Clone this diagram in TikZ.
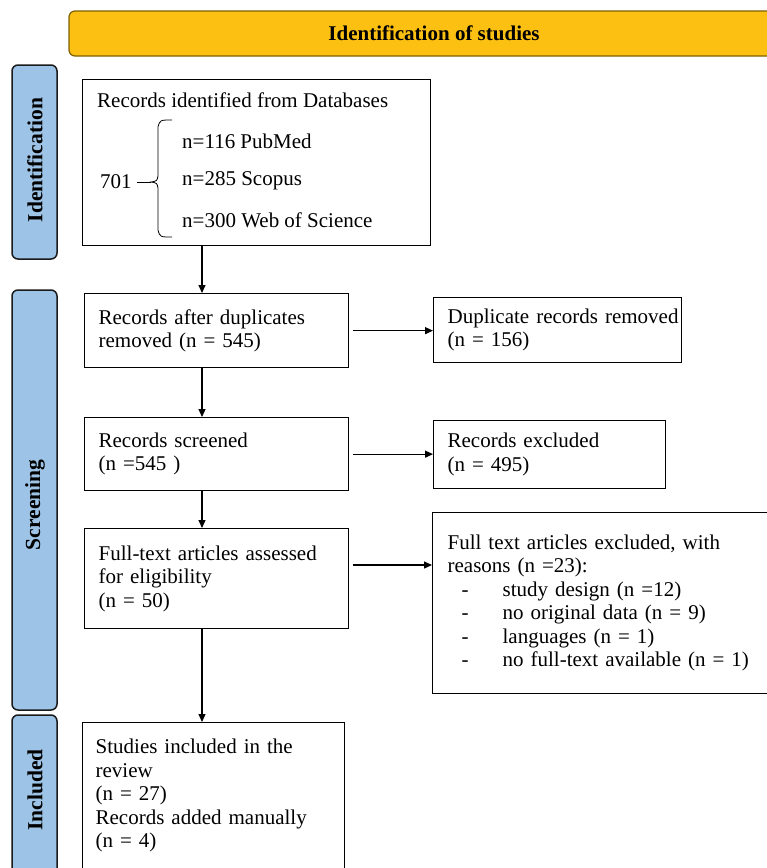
\documentclass[tikz,border=0pt]{standalone}
\usepackage{fontspec}
\setmainfont{Liberation Serif}
\usetikzlibrary{arrows.meta}
\definecolor{bannergold}{HTML}{FBC012}
\definecolor{bannerline}{HTML}{7F6000}
\definecolor{sideblue}{HTML}{9DC3E6}
\definecolor{sideline}{HTML}{1A1A1A}
\begin{document}
\begin{tikzpicture}[x=1pt,y=-1pt,
  every node/.style={font=\fontsize{21}{23.5}\selectfont},
  banner/.style={draw=bannerline,fill=bannergold,line width=1.2pt,rounded corners=6pt},
  side/.style={draw=sideline,fill=sideblue,line width=1.5pt,rounded corners=6pt},
  sidelabel/.style={rotate=90,font=\fontsize{21.5}{24}\selectfont\bfseries},
  flowbox/.style={draw=black,line width=1.3pt,align=left,inner xsep=14pt,inner ysep=0pt,anchor=north west},
  plain/.style={inner sep=0pt,anchor=west},
  flowarrow/.style={-{Triangle[length=8pt,width=7pt]},line width=1.2pt}
]
\clip (0,0) rectangle (767,868);
\fill[white] (0,0) rectangle (767,868);
% banner
\draw[banner] (69,11) rectangle (790,56);
\node[font=\fontsize{21}{24}\selectfont\bfseries] (bannertext) at (434,33) {Identification of studies};
% side labels
\draw[side] (12,65) rectangle (57,259);
\node[sidelabel] (lid) at (35,160) {Identification};
\draw[side] (12,290) rectangle (57,710);
\node[sidelabel] (lscr) at (35,505) {Screening};
\draw[side] (12,715) rectangle (57,880);
\node[sidelabel] (linc) at (35,790) {Included};
% box 1
\node[draw=black,line width=1.3pt,minimum width=348pt,minimum height=166pt,anchor=north west,inner sep=0pt] (box1) at (82,79) {};
\node[plain] (hdr) at (97,100) {Records identified from Databases};
\node[plain] (n701) at (100,182) {701};
\node[plain] (pub) at (182,141) {n=116 PubMed};
\node[plain] (sco) at (182,181) {n=285 Scopus};
\node[plain] (wos) at (182,220) {n=300 Web of Science};
\coordinate (cusp) at (151,182);
\draw[line width=0.8pt] (172,120) .. controls (160,120) .. (158,127) -- (158,176) .. controls (157,181) .. (cusp) .. controls (157,183) .. (158,188) -- (158,230) .. controls (160,237) .. (172,237);
\draw[line width=0.8pt] ([xshift=5pt]n701.east) -- (cusp);
% screening boxes
\node[flowbox,text width=236pt,minimum height=74pt] (box2) at (84,293) {Records after duplicates\\removed (n = 545)};
\node[flowbox,text width=220pt,minimum height=65pt] (dup) at (433,297) {\mbox{Duplicate records removed}\\(n = 156)};
\node[flowbox,text width=236pt,minimum height=73pt] (box3) at (84,417) {Records screened\\(n =545 )};
\node[flowbox,text width=204pt,minimum height=68pt] (excl) at (433,420) {Records excluded\\(n = 495)\\[2pt]};
\node[flowbox,text width=236pt,minimum height=100pt] (box4) at (84,528) {Full-text articles assessed\\for eligibility\\(n = 50)};
\node[flowbox,text width=305pt,minimum height=181pt,inner xsep=15pt] (fexcl) at (432,512) {Full text articles excluded, with\\reasons (n =23):\\
\hspace*{14pt}\makebox[41pt][l]{-}study design (n =12)\\
\hspace*{14pt}\makebox[41pt][l]{-}no original data (n = 9)\\
\hspace*{14pt}\makebox[41pt][l]{-}languages (n = 1)\\
\hspace*{14pt}\makebox[41pt][l]{-}no full-text available (n = 1)};
% included
\node[flowbox,text width=236pt,minimum height=146pt,inner xsep=13pt] (box5) at (82,722) {Studies included in the\\review\\(n = 27)\\Records added manually\\(n = 4)};
% arrows
\coordinate (ax) at (202,0);
\draw[flowarrow] (box1.south -| ax) -- (box2.north -| ax);
\draw[flowarrow] (box2.south -| ax) -- (box3.north -| ax);
\draw[flowarrow] (box3.south -| ax) -- (box4.north -| ax);
\draw[flowarrow] (box4.south -| ax) -- (box5.north -| ax);
\draw[flowarrow,shorten <=4pt] (box2.east) -- (dup.west |- box2.east);
\draw[flowarrow,shorten <=4pt] (box3.east) -- (excl.west |- box3.east);
\coordinate (y565) at (0,565);
\draw[flowarrow,shorten <=4pt] (box4.east |- y565) -- (fexcl.west |- y565);
\end{tikzpicture}
\end{document}
